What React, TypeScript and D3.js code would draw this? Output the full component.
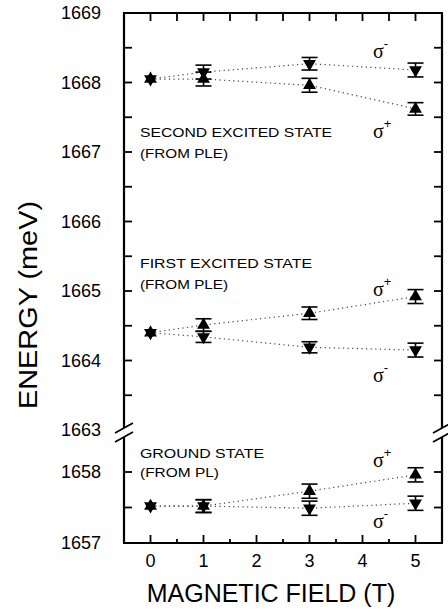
import { useEffect, useRef } from 'react';
import * as d3 from 'd3';

// magnetic field values (T)
const fields = [0, 1, 3, 5];

// energies in meV, index follows `fields`
const secondPlus = [1668.05, 1668.05, 1667.96, 1667.62];
const secondPlusErr = [0, 0.1, 0.1, 0.09];
const secondMinus = [1668.05, 1668.15, 1668.27, 1668.18];
const secondMinusErr = [0, 0.1, 0.09, 0.1];

const firstPlus = [1664.4, 1664.51, 1664.68, 1664.92];
const firstPlusErr = [0, 0.09, 0.09, 0.1];
const firstMinus = [1664.4, 1664.34, 1664.19, 1664.15];
const firstMinusErr = [0, 0.08, 0.08, 0.1];

const groundPlus = [1657.52, 1657.52, 1657.73, 1657.96];
const groundPlusErr = [0, 0.09, 0.1, 0.1];
const groundMinus = [1657.52, 1657.52, 1657.49, 1657.56];
const groundMinusErr = [0, 0.09, 0.1, 0.1];

const upperTickLabels = [1663, 1664, 1665, 1666, 1667, 1668, 1669];
const lowerTickLabels = [1657, 1658];
const xTickLabels = [0, 1, 2, 3, 4, 5];

const W = 448;
const H = 609;
const FONT = "'Liberation Sans', Arial, Helvetica, sans-serif";

function App() {
  const svgRef = useRef<SVGSVGElement | null>(null);

  useEffect(() => {
    const svg = d3.select(svgRef.current);
    svg.selectAll('*').remove();

    const left = 124;
    const right = 442;
    const top = 13;
    const bottom = 543;
    const breakY = 432;

    const x = d3.scaleLinear().domain([-0.5, 5.5]).range([left, right]);
    const yUp = d3.scaleLinear().domain([1663, 1669]).range([430, top]);
    const yLow = d3.scaleLinear().domain([1657, 1658]).range([bottom, 472]);

    svg.append('rect').attr('width', W).attr('height', H).attr('fill', '#fff');

    const g = svg.append('g');

    // frame
    const frame = g.append('g').attr('stroke', '#000').attr('stroke-width', 2.2).attr('fill', 'none');
    frame.append('line').attr('x1', left - 1).attr('x2', right + 1).attr('y1', top).attr('y2', top);
    frame.append('line').attr('x1', left - 1).attr('x2', right + 1).attr('y1', bottom).attr('y2', bottom);
    [left, right].forEach(ax => {
      frame.append('line').attr('x1', ax).attr('x2', ax).attr('y1', top).attr('y2', breakY - 4);
      frame.append('line').attr('x1', ax).attr('x2', ax).attr('y1', breakY + 5).attr('y2', bottom);
      // break marks
      [-4, 5].forEach(dy => {
        frame.append('line')
          .attr('stroke-width', 1.7)
          .attr('x1', ax - 9).attr('y1', breakY + dy + 5)
          .attr('x2', ax + 9).attr('y2', breakY + dy - 5);
      });
    });

    // y ticks (every 0.5 meV)
    const upTicks = d3.range(1663.5, 1669, 0.5);
    const lowTicks = [1657.5, 1658];
    const ticks = g.append('g').attr('stroke', '#000').attr('stroke-width', 1.8);
    const yTickPos = [...upTicks.map(v => yUp(v)), ...lowTicks.map(v => yLow(v))];
    yTickPos.forEach(py => {
      ticks.append('line').attr('x1', left).attr('x2', left + 8).attr('y1', py).attr('y2', py);
      ticks.append('line').attr('x1', right - 8).attr('x2', right).attr('y1', py).attr('y2', py);
    });

    // x ticks
    d3.range(0, 5.01, 0.5).forEach(v => {
      const major = Math.abs(v - Math.round(v)) < 1e-6;
      ticks.append('line').attr('x1', x(v)).attr('x2', x(v))
        .attr('y1', bottom).attr('y2', bottom - (major ? 8 : 4));
      ticks.append('line').attr('x1', x(v)).attr('x2', x(v))
        .attr('y1', top).attr('y2', top + 8);
    });

    // tick labels
    const labels = g.append('g').attr('font-family', FONT).attr('font-size', 18).attr('fill', '#000');
    upperTickLabels.forEach(v => {
      labels.append('text').attr('x', 101).attr('y', yUp(v)).attr('dy', '0.36em')
        .attr('text-anchor', 'end').text(v);
    });
    lowerTickLabels.forEach(v => {
      labels.append('text').attr('x', 101).attr('y', yLow(v)).attr('dy', '0.36em')
        .attr('text-anchor', 'end').text(v);
    });
    xTickLabels.forEach(v => {
      labels.append('text').attr('x', x(v)).attr('y', 567)
        .attr('text-anchor', 'middle').text(v);
    });

    // axis titles
    g.append('text')
      .attr('x', 271).attr('y', 602)
      .attr('text-anchor', 'middle')
      .attr('font-family', FONT).attr('font-size', 25)
      .text('MAGNETIC FIELD (T)');
    g.append('text')
      .attr('transform', 'translate(37,305) rotate(-90)')
      .attr('text-anchor', 'middle')
      .attr('font-family', FONT).attr('font-size', 25)
      .attr('textLength', 208).attr('lengthAdjust', 'spacingAndGlyphs')
      .text('ENERGY (meV)');

    // state captions
    const captions = [
      { t: 'SECOND EXCITED STATE', y: 137, w: 192 },
      { t: '(FROM PLE)', y: 158, w: 88 },
      { t: 'FIRST EXCITED STATE', y: 268, w: 172 },
      { t: '(FROM PLE)', y: 289, w: 88 },
      { t: 'GROUND STATE', y: 458, w: 124 },
      { t: '(FROM PL)', y: 477, w: 79 },
    ];
    captions.forEach(c => {
      g.append('text').attr('x', 140).attr('y', c.y)
        .attr('font-family', FONT).attr('font-size', 13.5)
        .attr('textLength', c.w).attr('lengthAdjust', 'spacingAndGlyphs')
        .text(c.t);
    });

    // sigma labels
    const sigmas = [
      { sign: '-', y: 58 },
      { sign: '+', y: 138 },
      { sign: '+', y: 296 },
      { sign: '-', y: 382 },
      { sign: '+', y: 467 },
      { sign: '-', y: 528 },
    ];
    sigmas.forEach(s => {
      const t = g.append('text').attr('x', 373).attr('y', s.y)
        .attr('font-family', "'Liberation Serif', 'Times New Roman', serif").attr('font-size', 20);
      t.append('tspan').text('σ');
      t.append('tspan').attr('dy', -10).attr('font-family', FONT).attr('font-size', 13)
        .text(s.sign === '-' ? '-' : '+');
    });

    const series = [
      { vals: secondPlus, err: secondPlusErr, up: true, y: yUp },
      { vals: secondMinus, err: secondMinusErr, up: false, y: yUp },
      { vals: firstPlus, err: firstPlusErr, up: true, y: yUp },
      { vals: firstMinus, err: firstMinusErr, up: false, y: yUp },
      { vals: groundPlus, err: groundPlusErr, up: true, y: yLow },
      { vals: groundMinus, err: groundMinusErr, up: false, y: yLow },
    ];

    // dotted guide lines
    series.forEach(s => {
      const line = d3.line<number>()
        .x((_, i) => x(fields[i]))
        .y(v => s.y(v));
      g.append('path')
        .attr('d', line(s.vals))
        .attr('fill', 'none')
        .attr('stroke', '#444')
        .attr('stroke-width', 1.2)
        .attr('stroke-dasharray', '1.2 3.4');
    });

    // error bars
    const eb = g.append('g').attr('stroke', '#000').attr('stroke-width', 1.6);
    series.forEach(s => {
      s.vals.forEach((v, i) => {
        const e = s.err[i];
        if (!e) return;
        const cx = x(fields[i]);
        const y1 = s.y(v - e);
        const y2 = s.y(v + e);
        eb.append('line').attr('x1', cx).attr('x2', cx).attr('y1', y1).attr('y2', y2);
        [y1, y2].forEach(yy => {
          eb.append('line').attr('x1', cx - 8).attr('x2', cx + 8).attr('y1', yy).attr('y2', yy);
        });
      });
    });

    // triangle markers
    const tri = d3.symbol().type(d3.symbolTriangle).size(72);
    series.forEach(s => {
      s.vals.forEach((v, i) => {
        g.append('path')
          .attr('d', tri())
          .attr('fill', '#000')
          .attr('transform', `translate(${x(fields[i])},${s.y(v)})${s.up ? '' : ' rotate(180)'}`);
      });
    });
  }, []);

  return (
    <svg
      ref={svgRef}
      width={W}
      height={H}
      style={{ position: 'absolute', left: 0, top: 0, display: 'block' }}
    />
  );
}

export default App;
